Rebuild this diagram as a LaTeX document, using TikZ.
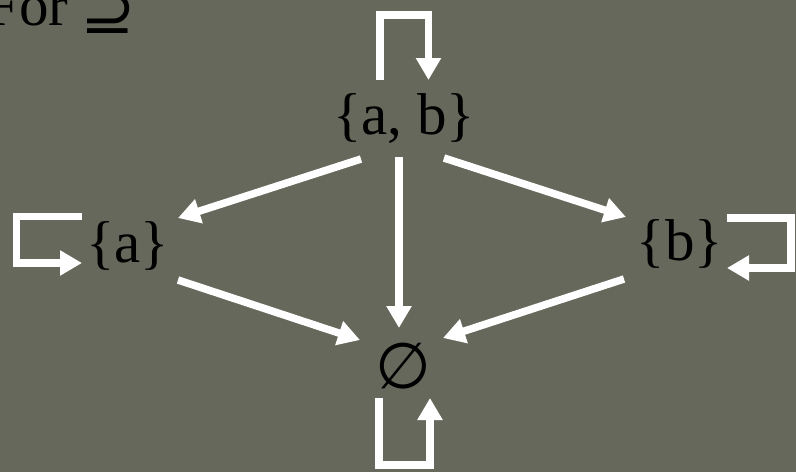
\documentclass[tikz,border=0pt]{standalone}
\usepackage{fontspec}
\setmainfont{Liberation Serif}
\newfontfamily\symfont{DejaVu Sans}
\usetikzlibrary{arrows.meta}
\definecolor{bgcol}{RGB}{103,104,92}
\tikzset{
  lbl/.style={inner sep=0pt, text=black, font=\fontsize{59}{62}\selectfont},
  arr/.style={draw=white, line width=7.5pt, -{Triangle[width=24pt,length=22pt]}},
  loop/.style={arr, line join=miter}
}
\begin{document}
\begin{tikzpicture}[x=1pt,y=-1pt]
\fill[bgcol] (0,0) rectangle (796,472);
\useasboundingbox (0,0) rectangle (796,472);
\node[lbl, anchor=base west] (title) at (-14,25) {For\hspace{12pt}\raisebox{-8pt}{\symfont\fontsize{66}{70}\selectfont ⊇}};
\node[lbl] (ab) at (404,119) {\{a, b\}};
\node[lbl] (a) at (127.5,246) {\{a\}};
\node[lbl] (b) at (680,244) {\{b\}};
\node[lbl, font=\symfont\fontsize{64}{66}\selectfont] (e) at (403.5,366.5) {∅};
% straight connector endpoints
\coordinate (ab1) at (361,159); \coordinate (a1) at (178,218);
\coordinate (ab2) at (444,158); \coordinate (b1) at (626,217);
\coordinate (ab3) at (399,157); \coordinate (e1) at (399,328);
\coordinate (a2) at (178,280); \coordinate (e2) at (360,340);
\coordinate (b2) at (624,279); \coordinate (e3) at (443,338);
\draw[arr] (ab1) -- (a1);
\draw[arr] (ab2) -- (b1);
\draw[arr] (ab3) -- (e1);
\draw[arr] (a2) -- (e2);
\draw[arr] (b2) -- (e3);
% self loops
\coordinate (abL0) at (380,80); \coordinate (abL1) at (428.5,80);
\draw[loop] (abL0) -- (380,15) -- (428.5,15) -- (abL1);
\coordinate (aL0) at (82,216.5); \coordinate (aL1) at (82,263);
\draw[loop] (aL0) -- (16.5,216.5) -- (16.5,263) -- (aL1);
\coordinate (bL0) at (727,218); \coordinate (bL1) at (727,268);
\draw[loop] (bL0) -- (791,218) -- (791,268) -- (bL1);
\coordinate (eL0) at (379,398); \coordinate (eL1) at (430,398);
\draw[loop] (eL0) -- (379,465) -- (430,465) -- (eL1);
\end{tikzpicture}
\end{document}
